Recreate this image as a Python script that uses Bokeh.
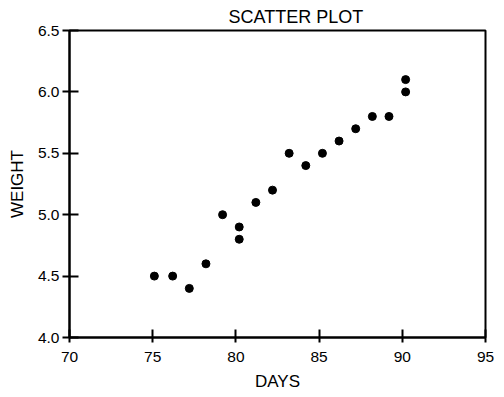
from bokeh.plotting import figure
from bokeh.models import Range1d, FixedTicker
from bokeh.embed import file_html
from bokeh.resources import INLINE

# Data
days = [75.1, 76.2, 77.2, 78.2, 79.2, 80.2, 80.2, 81.2, 82.2, 83.2,
        84.2, 85.2, 86.2, 87.2, 88.2, 89.2, 90.2, 90.2]
weight = [4.5, 4.5, 4.4, 4.6, 5.0, 4.9, 4.8, 5.1, 5.2, 5.5,
          5.4, 5.5, 5.6, 5.7, 5.8, 5.8, 6.0, 6.1]

x_ticks = [70, 75, 80, 85, 90, 95]
y_ticks = [4.0, 4.5, 5.0, 5.5, 6.0, 6.5]
y_tick_labels = ["4.0", "4.5", "5.0", "5.5", "6.0", "6.5"]

title_text = "SCATTER PLOT"
x_label = "DAYS"
y_label = "WEIGHT"

FONT = "Liberation Sans"

p = figure(width=500, height=394, output_backend="svg", toolbar_location=None,
           x_range=Range1d(70, 95), y_range=Range1d(4.0, 6.5),
           min_border_left=69, min_border_right=15, min_border_top=30,
           min_border_bottom=57)

p.title.text = title_text
p.title.text_font = FONT
p.title.text_font_size = "18px"
p.title.text_font_style = "normal"
p.title.align = "left"
p.title.offset = 159
p.title.standoff = 7
p.title.text_color = "black"

p.outline_line_color = "black"
p.outline_line_width = 2
p.outline_line_alpha = 1
p.xgrid.visible = False
p.ygrid.visible = False
p.background_fill_color = "white"
p.border_fill_color = "white"

for ax in (p.xaxis[0], p.yaxis[0]):
    ax.axis_line_width = 2
    ax.axis_line_color = "black"
    ax.major_tick_line_width = 2
    ax.major_tick_line_color = "black"
    ax.minor_tick_line_color = None
    ax.major_label_text_font = FONT
    ax.major_label_text_font_size = "15.5px"
    ax.major_label_text_color = "black"
    ax.axis_label_text_font = FONT
    ax.axis_label_text_font_size = "17px"
    ax.axis_label_text_font_style = "normal"
    ax.axis_label_text_color = "black"

p.xaxis.major_tick_in = 8
p.xaxis.major_tick_out = 5
p.yaxis.major_tick_in = 9
p.yaxis.major_tick_out = 7
p.xaxis.major_label_standoff = 9
p.yaxis.major_label_standoff = 3

p.xaxis.ticker = FixedTicker(ticks=x_ticks)
p.yaxis.ticker = FixedTicker(ticks=y_ticks)
p.yaxis.major_label_overrides = {t: l for t, l in zip(y_ticks, y_tick_labels)}
p.xaxis.axis_label = x_label
p.yaxis.axis_label = y_label
p.xaxis.axis_label_standoff = 7
p.yaxis.axis_label_standoff = 8

p.scatter(days, weight, size=8, color="black", marker="circle")

open("out.html", "w").write(file_html(p, INLINE))
